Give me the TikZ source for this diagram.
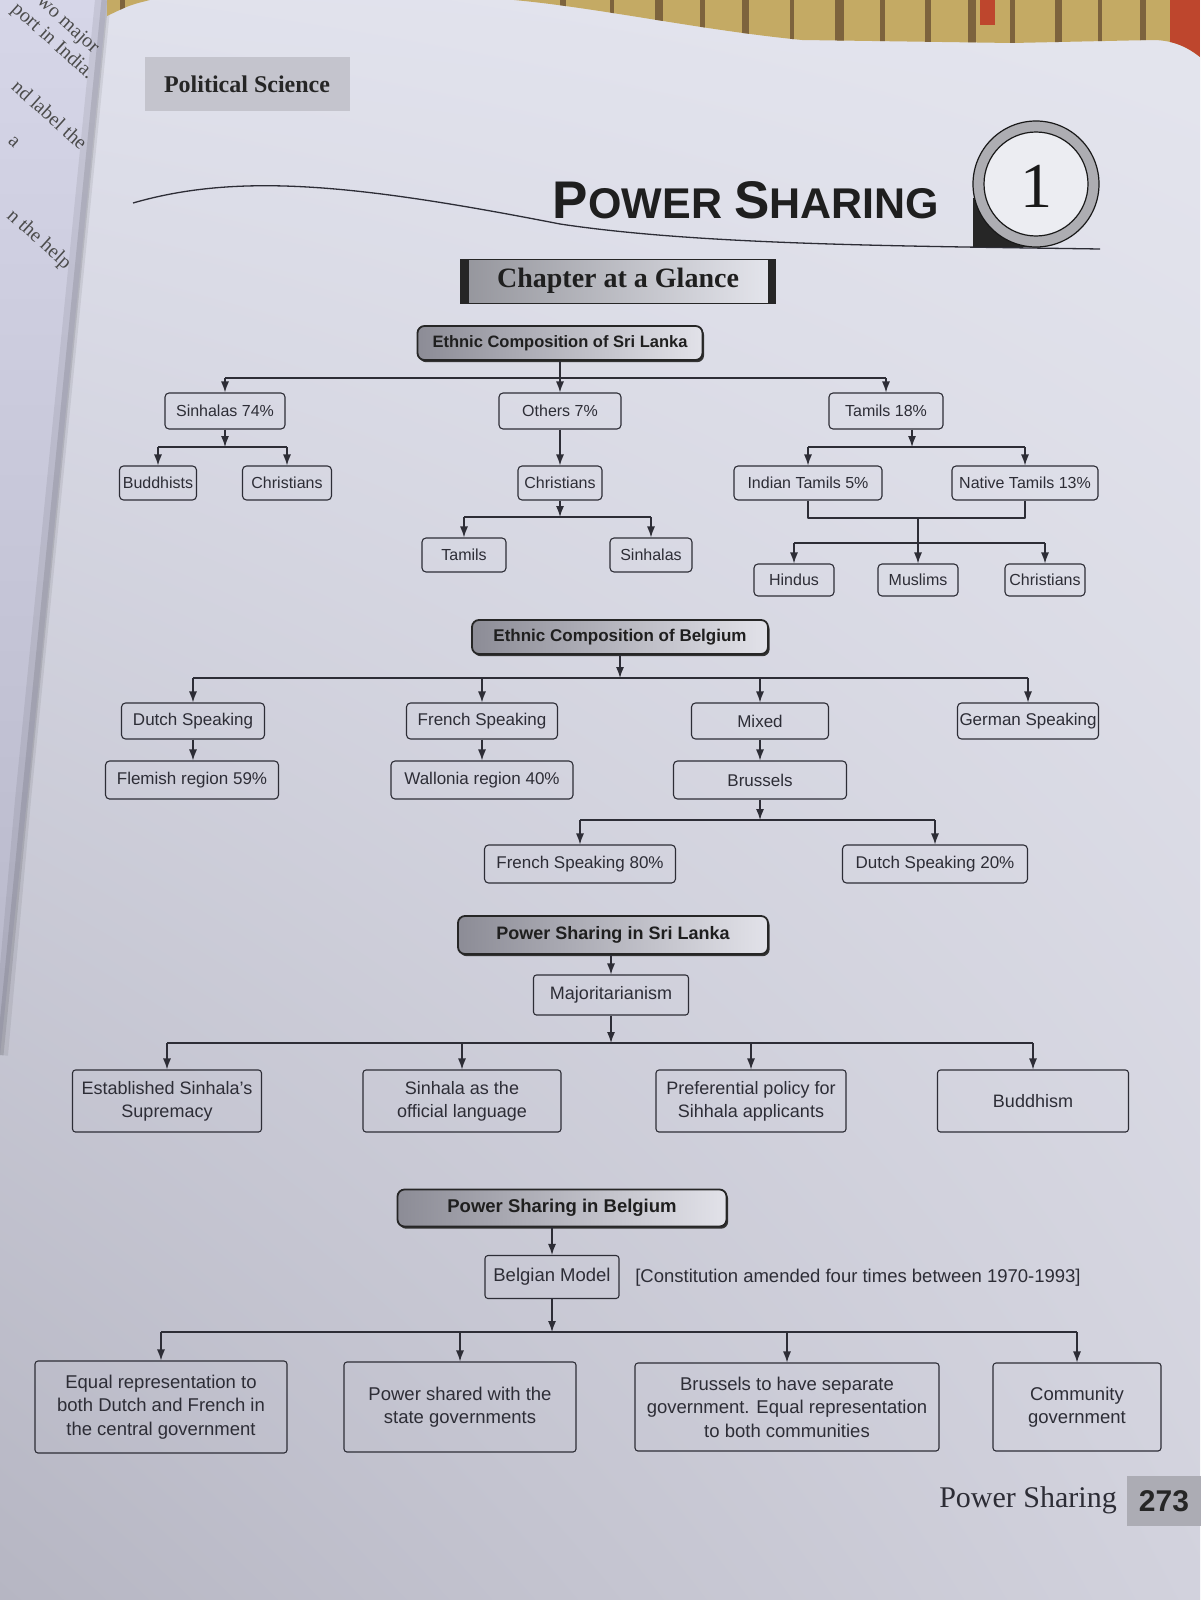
\documentclass[tikz,border=0pt]{standalone}
\usepackage{fontspec}
\setmainfont{Liberation Serif}
\setsansfont{Liberation Sans}
\usetikzlibrary{arrows.meta,shadows,shadings}
\definecolor{pagebg}{RGB}{218,219,229}
\definecolor{bgUL}{RGB}{224,225,236}
\definecolor{bgUR}{RGB}{228,229,238}
\definecolor{bgLL}{RGB}{182,182,195}
\definecolor{bgLR}{RGB}{210,210,221}
\definecolor{leftpgT}{RGB}{214,214,232}
\definecolor{leftpgB}{RGB}{184,184,202}
\definecolor{ink}{RGB}{45,45,54}
\definecolor{hdrdark}{RGB}{140,140,150}
\definecolor{hdrlight}{RGB}{226,226,233}
\definecolor{fabric}{RGB}{196,170,100}
\definecolor{fabdark}{RGB}{95,70,45}
\definecolor{fabred}{RGB}{190,70,45}
\definecolor{tagbg}{RGB}{196,196,205}
\begin{document}
\begin{tikzpicture}[x=1pt,y=-1pt,line join=round,
  box/.style={draw=ink, line width=1.1pt, rounded corners=4pt, text=ink, inner sep=2pt, align=center, minimum height=34pt},
  sbox/.style={draw=ink, line width=1.1pt, rounded corners=3pt, text=ink, inner sep=3pt, align=center},
  sechdr/.style={draw=black!85, line width=1.8pt, rounded corners=7pt, left color=hdrdark, right color=hdrlight, text=black!88, inner sep=2pt,
     drop shadow={shadow xshift=1.6pt, shadow yshift=-2.2pt, opacity=1, fill=black!80}},
  arr/.style={draw=ink, line width=1.2pt, -{Latex[length=11pt,width=8pt]}},
  ln/.style={draw=ink, line width=1.2pt},
  frag/.style={font=\fontsize{20}{24}\selectfont, text=black!70, rotate=-42, anchor=base east, inner sep=0pt},
  fA/.style={font=\sffamily\fontsize{16}{19}\selectfont},
  fB/.style={font=\sffamily\fontsize{17}{20}\selectfont},
  fC/.style={font=\sffamily\fontsize{18}{23}\selectfont},
  fD/.style={font=\sffamily\fontsize{18.5}{23.5}\selectfont},
  hA/.style={font=\sffamily\bfseries\fontsize{16.5}{19}\selectfont},
  hB/.style={font=\sffamily\bfseries\fontsize{17}{20}\selectfont},
  hC/.style={font=\sffamily\bfseries\fontsize{18}{21}\selectfont},
  hD/.style={font=\sffamily\bfseries\fontsize{18.5}{22}\selectfont}
]
\useasboundingbox (0,0) rectangle (1200,1600);
% ---------- background (photographed page) ----------
\shade[upper left=bgUL, upper right=bgUR, lower left=bgLL, lower right=bgLR] (0,0) rectangle (1200,1600);
% facing page, upper left
\shade[top color=leftpgT, bottom color=leftpgB] (0,0) -- (107,0) -- (27,800) -- (0,1055) -- cycle;
\begin{scope}
  \clip (0,0) -- (107,0) -- (27,800) -- (0,1055) -- cycle;
  \node[frag] (fr1) at (93,54) {wo major};
  \node[frag] (fr2) at (88,80) {port in India.};
  \node[frag] (fr3) at (80,151) {nd label the};
  \node[frag] (fr4) at (14,149) {a};
  \node[frag] (fr5) at (65,270) {n the help};
\end{scope}
\draw[black, opacity=0.07, line width=16pt] (103,0) -- (23,800) -- (0,1055);
\draw[black, opacity=0.10, line width=7pt] (105,0) -- (25,800) -- (0,1055);
% fabric seen above the page
\begin{scope}
  \clip (107,0) -- (1200,0) -- (1200,57) .. controls (1185,45) and (1170,40) .. (1152,40) -- (1012,43) -- (802,40)
     .. controls (700,30) and (600,8) .. (514,0) -- (150,0) .. controls (130,5) .. (107,16) -- cycle;
  \fill[fabric] (100,0) rectangle (1200,60);
  \foreach \xx/\ww in {120/5,560/6,610/4,655/8,700/5,742/7,790/4,835/9,880/5,925/6,968/8,1010/5,1055/7,1098/4,1140/6}
    \fill[fabdark, opacity=0.7] (\xx,0) rectangle (\xx+\ww,60);
  \fill[fabred] (1170,0) rectangle (1200,60);
  \fill[fabred] (980,0) rectangle (995,25);
\end{scope}
% ---------- page header ----------
\node[fill=tagbg, minimum width=205pt, minimum height=54pt, font=\bfseries\fontsize{24}{28}\selectfont, text=black!85] (pol) at (247,84) {Political Science};
\draw[ink, line width=1.3pt] (133,203) .. controls (240,172) and (360,185) .. (560,224)
  .. controls (700,245) and (900,246) .. (1100,249);
\node[font=\sffamily\bfseries, text=black!88, inner sep=0pt] (ttl) at (746,200)
  {\fontsize{53}{60}\selectfont P\fontsize{43}{50}\selectfont OWER\ \fontsize{53}{60}\selectfont S\fontsize{43}{50}\selectfont HARING};
\fill[black!85] (973,198) rectangle (1036,247);
\draw[black!90, line width=1.2pt, fill=gray!50!pagebg] (1036,184) circle (63pt);
\draw[black!90, line width=1.2pt, fill=pagebg!50!white] (1036,184) circle (52pt);
\node[font=\fontsize{64}{70}\selectfont, text=black!90] (num) at (1036,186) {1};
\node[draw=black!85, line width=1pt, left color=black!32!pagebg, right color=pagebg!70!white, minimum width=315pt, minimum height=44pt,
      font=\bfseries\fontsize{28}{32}\selectfont, text=black!88] (cag) at (618,281) {Chapter at a Glance};
\fill[black!85] (cag.north west) rectangle ([xshift=9pt]cag.south west);
\fill[black!85] ([xshift=-8pt]cag.north east) rectangle (cag.south east);
% ---------- Ethnic composition of Sri Lanka ----------
\node[sechdr, hA, minimum width=285pt, minimum height=34pt] (slh) at (560,343) {Ethnic Composition of Sri Lanka};
\node[box, fA, minimum width=120pt, minimum height=36pt] (sin) at (225,411) {Sinhalas 74\%};
\node[box, fA, minimum width=122pt, minimum height=36pt] (oth) at (560,411) {Others 7\%};
\node[box, fA, minimum width=114pt, minimum height=36pt] (tam) at (886,411) {Tamils 18\%};
\node[box, fA, minimum width=77pt] (bud) at (158,483) {Buddhists};
\node[box, fA, minimum width=89pt] (chr1) at (287,483) {Christians};
\node[box, fA, minimum width=84pt] (chr2) at (560,483) {Christians};
\node[box, fA, minimum width=148pt] (ind) at (808,483) {Indian Tamils 5\%};
\node[box, fA, minimum width=146pt] (nat) at (1025,483) {Native Tamils 13\%};
\node[box, fA, minimum width=84pt] (tml) at (464,555) {Tamils};
\node[box, fA, minimum width=82pt] (snh) at (651,555) {Sinhalas};
\node[box, fA, minimum width=80pt, minimum height=32pt] (hin) at (794,580) {Hindus};
\node[box, fA, minimum width=80pt, minimum height=32pt] (mus) at (918,580) {Muslims};
\node[box, fA, minimum width=80pt, minimum height=32pt] (chr3) at (1045,580) {Christians};
\coordinate (b1) at (560,378);
\draw[ln] (sin.north |- b1) -- (tam.north |- b1);
\draw[arr] (slh.south) -- (oth.north);
\draw[arr] (sin.north |- b1) -- (sin.north);
\draw[arr] (tam.north |- b1) -- (tam.north);
\coordinate (b2) at (225,447);
\draw[arr] (sin.south) -- (b2);
\draw[ln] (bud.north |- b2) -- (chr1.north |- b2);
\draw[arr] (bud.north |- b2) -- (bud.north);
\draw[arr] (chr1.north |- b2) -- (chr1.north);
\draw[arr] (oth.south) -- (chr2.north);
\coordinate (b3) at (560,517);
\draw[arr] (chr2.south) -- (b3);
\draw[ln] (tml.north |- b3) -- (snh.north |- b3);
\draw[arr] (tml.north |- b3) -- (tml.north);
\draw[arr] (snh.north |- b3) -- (snh.north);
\coordinate (b4) at (912,447);
\draw[arr] (tam.south -| b4) -- (b4);
\draw[ln] (ind.north |- b4) -- (nat.north |- b4);
\draw[arr] (ind.north |- b4) -- (ind.north);
\draw[arr] (nat.north |- b4) -- (nat.north);
\coordinate (j) at (918,518);
\draw[ln] (ind.south) -- (ind.south |- j) -- (nat.south |- j) -- (nat.south);
\coordinate (b5) at (918,543);
\draw[arr] (j) -- (mus.north);
\draw[ln] (hin.north |- b5) -- (chr3.north |- b5);
\draw[arr] (hin.north |- b5) -- (hin.north);
\draw[arr] (chr3.north |- b5) -- (chr3.north);
% ---------- Ethnic composition of Belgium ----------
\node[sechdr, hB, minimum width=296pt, minimum height=34pt] (beh) at (620,637) {Ethnic Composition of Belgium};
\node[box, fB, minimum width=143pt, minimum height=36pt] (dut) at (193,721) {Dutch Speaking};
\node[box, fB, minimum width=151pt, minimum height=36pt] (fre) at (482,721) {French Speaking};
\node[box, fB, minimum width=137pt, minimum height=36pt] (mix) at (760,721) {Mixed};
\node[box, fB, minimum width=141pt, minimum height=36pt] (ger) at (1028,721) {German Speaking};
\node[box, fB, minimum width=173pt, minimum height=38pt] (fle) at (192,780) {Flemish region 59\%};
\node[box, fB, minimum width=182pt, minimum height=38pt] (wal) at (482,780) {Wallonia region 40\%};
\node[box, fB, minimum width=173pt, minimum height=38pt] (bru) at (760,780) {Brussels};
\node[box, fB, minimum width=191pt, minimum height=38pt] (fr80) at (580,864) {French Speaking 80\%};
\node[box, fB, minimum width=185pt, minimum height=38pt] (du20) at (935,864) {Dutch Speaking 20\%};
\coordinate (b6) at (620,678);
\draw[arr] (beh.south) -- (b6);
\draw[ln] (dut.north |- b6) -- (ger.north |- b6);
\draw[arr] (dut.north |- b6) -- (dut.north);
\draw[arr] (fre.north |- b6) -- (fre.north);
\draw[arr] (mix.north |- b6) -- (mix.north);
\draw[arr] (ger.north |- b6) -- (ger.north);
\draw[arr] (dut.south) -- (dut.south |- fle.north);
\draw[arr] (fre.south) -- (wal.north);
\draw[arr] (mix.south) -- (bru.north);
\coordinate (b7) at (760,820);
\draw[arr] (bru.south) -- (b7);
\draw[ln] (fr80.north |- b7) -- (du20.north |- b7);
\draw[arr] (fr80.north |- b7) -- (fr80.north);
\draw[arr] (du20.north |- b7) -- (du20.north);
% ---------- Power sharing in Sri Lanka ----------
\node[sechdr, hC, minimum width=310pt, minimum height=38pt] (psl) at (613,935) {Power Sharing in Sri Lanka};
\node[sbox, fC, minimum width=155pt, minimum height=40pt] (maj) at (611,995) {Majoritarianism};
\node[sbox, fC, minimum width=189pt, minimum height=62pt] (est) at (167,1101) {Established Sinhala's\\Supremacy};
\node[sbox, fC, minimum width=198pt, minimum height=62pt] (off) at (462,1101) {Sinhala as the\\official language};
\node[sbox, fC, minimum width=190pt, minimum height=62pt] (pre) at (751,1101) {Preferential policy for\\Sihhala applicants};
\node[sbox, fC, minimum width=191pt, minimum height=62pt] (bdh) at (1033,1101) {Buddhism};
\draw[arr] (maj.north |- psl.south) -- (maj.north);
\coordinate (b8) at (611,1043);
\draw[arr] (maj.south) -- (b8);
\draw[ln] (est.north |- b8) -- (bdh.north |- b8);
\draw[arr] (est.north |- b8) -- (est.north);
\draw[arr] (off.north |- b8) -- (off.north);
\draw[arr] (pre.north |- b8) -- (pre.north);
\draw[arr] (bdh.north |- b8) -- (bdh.north);
% ---------- Power sharing in Belgium ----------
\node[sechdr, hD, minimum width=329pt, minimum height=37pt] (psb) at (562,1208) {Power Sharing in Belgium};
\node[sbox, fD, minimum width=134pt, minimum height=43pt] (bm) at (552,1277) {Belgian Model};
\node[fD, text=ink] (ann) at (858,1278) {[Constitution amended four times between 1970-1993]};
\node[sbox, fD, minimum width=252pt, minimum height=92pt] (e1) at (161,1407) {Equal representation to\\both Dutch and French in\\the central government};
\node[sbox, fD, minimum width=232pt, minimum height=90pt] (e2) at (460,1407) {Power shared with the\\state governments};
\node[sbox, fD, minimum width=304pt, minimum height=88pt] (e3) at (787,1407) {Brussels to have separate\\government. Equal representation\\to both communities};
\node[sbox, fD, minimum width=168pt, minimum height=88pt] (e4) at (1077,1407) {Community\\government};
\draw[arr] (bm.north |- psb.south) -- (bm.north);
\coordinate (b9) at (552,1332);
\draw[arr] (bm.south) -- (b9);
\draw[ln] (e1.north |- b9) -- (e4.north |- b9);
\draw[arr] (e1.north |- b9) -- (e1.north);
\draw[arr] (e2.north |- b9) -- (e2.north);
\draw[arr] (e3.north |- b9) -- (e3.north);
\draw[arr] (e4.north |- b9) -- (e4.north);
% ---------- footer ----------
\node[font=\fontsize{30}{34}\selectfont, text=ink] (fps) at (1028,1500) {Power Sharing};
\node[fill=tagbg!88!black, minimum width=74pt, minimum height=50pt, font=\sffamily\bfseries\fontsize{30}{34}\selectfont, text=black!85] (pg) at (1164,1501) {273};
\end{tikzpicture}
\end{document}
